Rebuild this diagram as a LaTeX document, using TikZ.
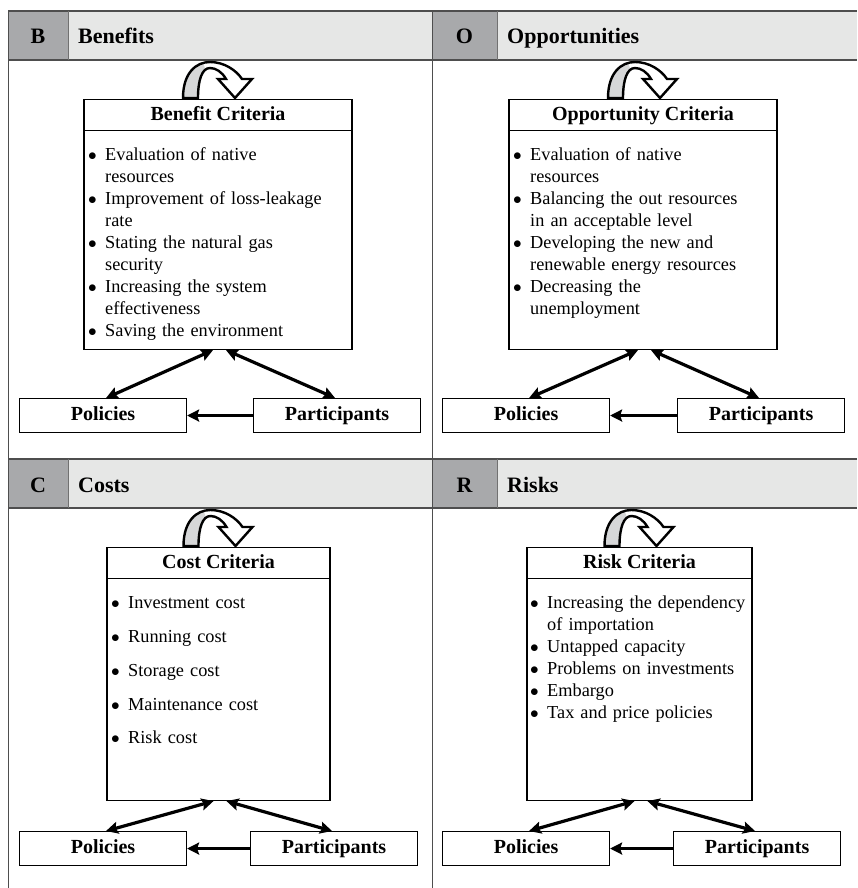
\documentclass[tikz,border=0pt]{standalone}
\usepackage{fontspec}
\setmainfont{Liberation Serif}
\usetikzlibrary{arrows.meta,positioning}
\definecolor{hdrdark}{HTML}{A8A9AB}
\definecolor{hdrlight}{HTML}{E6E7E6}
\definecolor{rulegray}{HTML}{4E4E4E}
\definecolor{loopgray}{HTML}{D6D7D8}
\newcommand\bodyfont{\fontsize{18.3}{22}\selectfont}
\newcommand\critem[1]{\par\hangindent=17pt\hangafter=1\noindent\makebox[17pt][l]{$\bullet$}\strut#1}
\tikzset{
  turnarrow/.pic={
    \fill[white] (-35,0) .. controls (-35,-25) and (-22,-36) .. (-8,-36) .. controls (6,-36) and (18,-28) .. (24,-19) -- (34,-19) -- (17,0) -- (0,-19) -- (8,-19) .. controls (4,-26) and (-2,-30) .. (-8,-30) .. controls (-16,-30) and (-20,-18) .. (-20,0) -- cycle;
    \fill[loopgray] (-35,0) .. controls (-35,-22) and (-26,-34) .. (-15,-35.5) -- (-13,-29.6) .. controls (-18,-27) and (-20,-15) .. (-20,0) -- cycle;
    \draw[line width=2.4pt,line join=miter] (-35,0) .. controls (-35,-25) and (-22,-36) .. (-8,-36) .. controls (6,-36) and (18,-28) .. (24,-19) -- (34,-19) -- (17,0) -- (0,-19) -- (8,-19) .. controls (4,-26) and (-2,-30) .. (-8,-30) .. controls (-16,-30) and (-20,-18) .. (-20,0) -- cycle;
  }
}

\begin{document}
\begin{tikzpicture}[x=1pt,y=-1pt,
  hdrletter/.style={anchor=base,inner sep=0pt,font=\fontsize{22}{26}\selectfont\bfseries},
  hdrtitle/.style={anchor=base west,inner sep=0pt,font=\fontsize{22}{26}\selectfont\bfseries},
  critbox/.style={draw,line width=1.1pt,anchor=north,inner sep=0pt},
  crittitle/.style={draw,line width=1.1pt,anchor=north,inner sep=0pt,minimum height=31pt,text height=14pt,text depth=4pt,font=\fontsize{20}{24}\selectfont\bfseries},
  critlist/.style={anchor=north west,inner sep=0pt,text width=270pt,font=\bodyfont},
  actorbox/.style={draw,line width=1.1pt,anchor=north west,inner sep=0pt,minimum width=167pt,minimum height=34pt,text height=14pt,text depth=4pt,font=\fontsize{20}{24}\selectfont\bfseries},
  link/.style={line width=3.2pt,{Stealth[length=12pt,width=12pt,inset=2pt]}-{Stealth[length=12pt,width=12pt,inset=2pt]}},
  onelink/.style={line width=3.2pt,-{Stealth[length=12pt,width=12pt,inset=2pt]}}]
\useasboundingbox (0,0) rectangle (857,888);

% headers
\fill[hdrlight] (8,11) rectangle (857,60);
\fill[hdrdark] (8,11) rectangle (68,60);
\fill[hdrdark] (432,11) rectangle (497,60);
\fill[hdrlight] (8,459) rectangle (857,508);
\fill[hdrdark] (8,459) rectangle (68,508);
\fill[hdrdark] (432,459) rectangle (497,508);
\draw[rulegray,line width=1.3pt] (8,11) -- (857,11) (8,60) -- (857,60) (8,459) -- (857,459) (8,508) -- (857,508);
\draw[rulegray!80,line width=0.8pt] (68,11) -- (68,60) (497,11) -- (497,60) (68,459) -- (68,508) (497,459) -- (497,508);
\draw[rulegray,line width=1pt] (8,11) -- (8,888) (432,11) -- (432,888);

\node[hdrletter] (hb) at (38,44) {B};
\node[hdrtitle] (tb) at (78,44) {Benefits};
\node[hdrletter] (ho) at (464.5,44) {O};
\node[hdrtitle] (to) at (507,44) {Opportunities};
\node[hdrletter] (hc) at (38,492) {C};
\node[hdrtitle] (tc) at (78,492) {Costs};
\node[hdrletter] (hr) at (464.5,492) {R};
\node[hdrtitle] (tr) at (507,492) {Risks};

% benefits
\node[critbox,minimum width=268pt,minimum height=250pt] (bbox) at (218,99) {};
\node[crittitle,minimum width=268pt] (btitle) at (218,99) {Benefit Criteria};
\pic at (218,98) {turnarrow};
\node[critlist] (blist) at (88,138) {%
  \critem{Evaluation of native\newline resources}
  \critem{Improvement of loss-leakage\newline rate}
  \critem{Stating the natural gas\newline security}
  \critem{Increasing the system\newline effectiveness}
  \critem{Saving the environment}\par};
\node[actorbox] (bpol) at (19,398) {Policies};
\node[actorbox] (bpar) at (253,398) {Participants};
\draw[link] ([xshift=-5pt]bbox.south) -- ([xshift=3pt]bpol.north);
\draw[link] ([xshift=8pt]bbox.south) -- ([xshift=-2pt]bpar.north);
\draw[onelink] (bpar.west) -- (bpol.east);

% opportunities
\node[critbox,minimum width=268pt,minimum height=250pt] (obox) at (643,99) {};
\node[crittitle,minimum width=268pt] (otitle) at (643,99) {Opportunity Criteria};
\pic at (643,98) {turnarrow};
\node[critlist] (olist) at (513,138) {%
  \critem{Evaluation of native\newline resources}
  \critem{Balancing the out resources\newline in an acceptable level}
  \critem{Developing the new and\newline renewable energy resources}
  \critem{Decreasing the\newline unemployment}\par};
\node[actorbox] (opol) at (442,398) {Policies};
\node[actorbox] (opar) at (677,398) {Participants};
\draw[link] ([xshift=-5pt]obox.south) -- ([xshift=3pt]opol.north);
\draw[link] ([xshift=8pt]obox.south) -- ([xshift=-2pt]opar.north);
\draw[onelink] (opar.west) -- (opol.east);

% costs
\node[critbox,minimum width=223pt,minimum height=253pt] (cbox) at (218.5,547) {};
\node[crittitle,minimum width=223pt] (ctitle) at (218.5,547) {Cost Criteria};
\pic at (218.5,546) {turnarrow};
\node[critlist] (clist) at (111,575) {\setlength\parskip{11.7pt}%
  \critem{Investment cost}
  \critem{Running cost}
  \critem{Storage cost}
  \critem{Maintenance cost}
  \critem{Risk cost}\par};
\node[actorbox] (cpol) at (19,831) {Policies};
\node[actorbox] (cpar) at (250,831) {Participants};
\draw[link] ([xshift=-5pt]cbox.south) -- ([xshift=3pt]cpol.north);
\draw[link] ([xshift=8pt]cbox.south) -- ([xshift=-2pt]cpar.north);
\draw[onelink] (cpar.west) -- (cpol.east);

% risks
\node[critbox,minimum width=225pt,minimum height=253pt] (rbox) at (639.5,547) {};
\node[crittitle,minimum width=225pt] (rtitle) at (639.5,547) {Risk Criteria};
\pic at (639.5,546) {turnarrow};
\node[critlist] (rlist) at (530,586) {%
  \critem{Increasing the dependency\newline of importation}
  \critem{Untapped capacity}
  \critem{Problems on investments}
  \critem{Embargo}
  \critem{Tax and price policies}\par};
\node[actorbox] (rpol) at (442,831) {Policies};
\node[actorbox] (rpar) at (673,831) {Participants};
\draw[link] ([xshift=-5pt]rbox.south) -- ([xshift=3pt]rpol.north);
\draw[link] ([xshift=8pt]rbox.south) -- ([xshift=-2pt]rpar.north);
\draw[onelink] (rpar.west) -- (rpol.east);
\end{tikzpicture}
\end{document}
